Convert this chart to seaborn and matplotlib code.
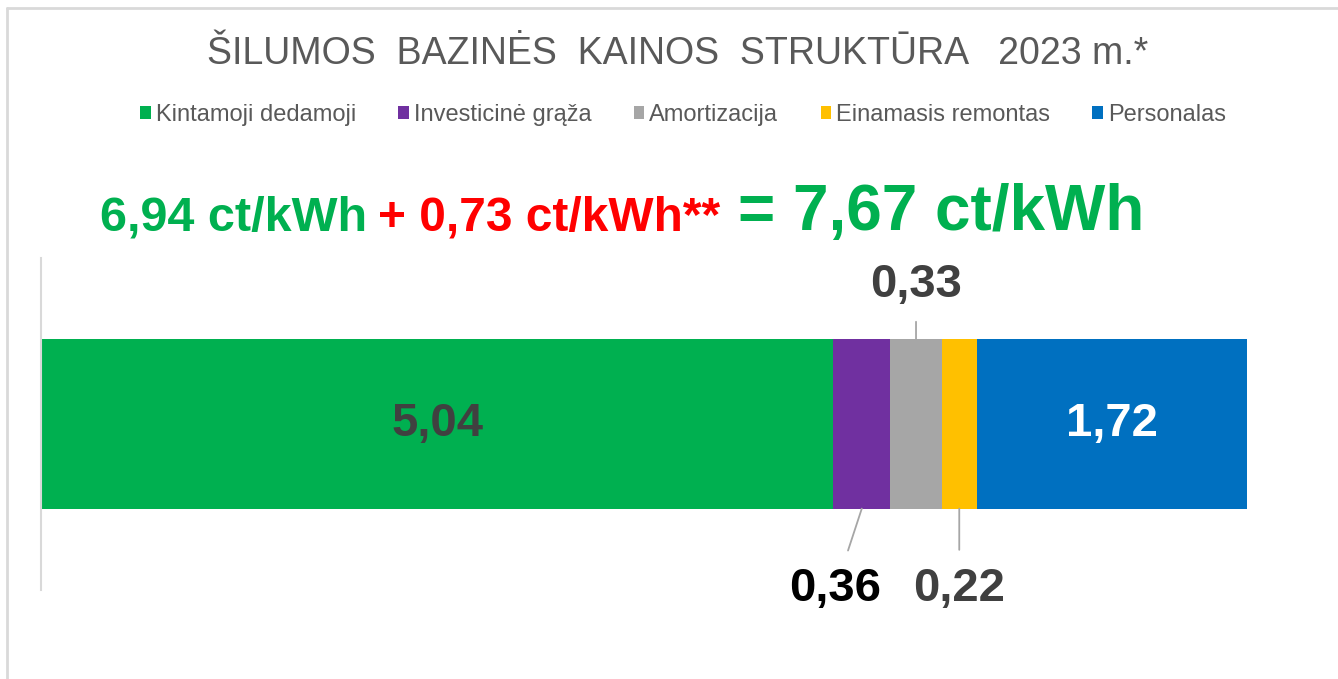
import matplotlib
matplotlib.use('Agg')
import matplotlib.pyplot as plt
from matplotlib.patches import Patch
from matplotlib.lines import Line2D
import numpy as np
import pandas as pd
import seaborn as sns

# data
parts = ['Kintamoji dedamoji', 'Investicinė grąža', 'Amortizacija',
         'Einamasis remontas', 'Personalas']
values = [5.04, 0.36, 0.33, 0.22, 1.72]
colors = ['#00B050', '#7030A0', '#A6A6A6', '#FFC000', '#0070C0']
title = 'ŠILUMOS  BAZINĖS  KAINOS  STRUKTŪRA   2023 m.*'
formula_parts = ['6,94 ct/kWh', '+ 0,73 ct/kWh**', '= 7,67 ct/kWh']

sns.set_theme(style='white')
plt.rcParams['font.family'] = ['Liberation Sans', 'DejaVu Sans']

W, H = 1338, 679
fig = plt.figure(figsize=(W / 100, H / 100), dpi=100)
fig.patch.set_facecolor('white')

# outer frame (top and left edges)
fig.add_artist(Line2D([7 / W, 7 / W], [0, 1 - 8 / H], transform=fig.transFigure,
                      color='#D9D9D9', lw=2))
fig.add_artist(Line2D([7 / W, 1], [1 - 8 / H, 1 - 8 / H], transform=fig.transFigure,
                      color='#D9D9D9', lw=2))

ax = fig.add_axes([41 / W, (H - 590) / H, (1247 - 41) / W, 332 / H])

df = pd.DataFrame({'part': parts, 'value': values, 'color': colors})
df['end'] = df['value'].cumsum()
df['start'] = df['end'] - df['value']
df['row'] = 'total'

# stacked bar: draw cumulative totals from longest to shortest
for i in reversed(range(len(df))):
    sns.barplot(data=df.iloc[[i]], x='end', y='row', orient='h',
                color=df['color'][i], width=0.51, saturation=1,
                linewidth=0, ax=ax)

ax.set_xlim(0, df['end'].iloc[-1])
ax.set_ylim(0.5, -0.5)
ax.set_xlabel('')
ax.set_ylabel('')
ax.set_xticks([])
ax.set_yticks([])
for s in ['top', 'right', 'bottom']:
    ax.spines[s].set_visible(False)
ax.spines['left'].set_color('#D9D9D9')
ax.spines['left'].set_linewidth(1.5)
ax.set_facecolor('none')


def fmt(v):
    return f'{v:.2f}'.replace('.', ',')


half = 0.51 / 2
mid = (df['start'] + df['end']) / 2
lbl = dict(fontsize=34, fontweight='bold')

# inside labels
ax.text(mid[0], 0, fmt(values[0]), ha='center', va='center', color='#404040', **lbl)
ax.text(mid[4], 0, fmt(values[4]), ha='center', va='center', color='white', **lbl)

# outside labels with leader lines
lead = dict(arrowstyle='-', color='#A6A6A6', lw=1.3, shrinkA=8, shrinkB=0)
ax.annotate(fmt(values[2]), xy=(mid[2], -half), xytext=(0, 23),
            textcoords='offset points', ha='center', va='bottom',
            color='#404040', arrowprops=lead, **lbl)
lead = dict(lead, shrinkA=10)
ax.annotate(fmt(values[1]), xy=(mid[1], half), xytext=(-19, -42),
            textcoords='offset points', ha='center', va='top',
            color='#000000', arrowprops=lead, **lbl)
ax.annotate(fmt(values[3]), xy=(mid[3], half), xytext=(0, -42),
            textcoords='offset points', ha='center', va='top',
            color='#404040', arrowprops=lead, **lbl)

# title and legend
fig.text(678 / W, 1 - 54 / H, title, ha='center', va='center',
         fontsize=27, color='#595959')
handles = [Patch(facecolor=c, edgecolor='none') for c in colors]
fig.legend(handles, parts, loc='center', bbox_to_anchor=(683 / W, 1 - 115 / H),
           ncol=5, frameon=False, fontsize=17, handlelength=0.45,
           handleheight=0.45, handletextpad=0.2, columnspacing=1.8,
           labelcolor='#595959')

# price formula line
y_base = 1 - 230 / H
fig.text(100 / W, y_base, formula_parts[0], ha='left', va='baseline',
         fontsize=35, fontweight='bold', color='#00B050')
fig.text(378 / W, y_base, formula_parts[1], ha='left', va='baseline',
         fontsize=34.5, fontweight='bold', color='#FF0000')
fig.text(738 / W, y_base, formula_parts[2], ha='left', va='baseline',
         fontsize=46, fontweight='bold', color='#00B050')

fig.savefig('out.png', dpi=100, facecolor='white')
